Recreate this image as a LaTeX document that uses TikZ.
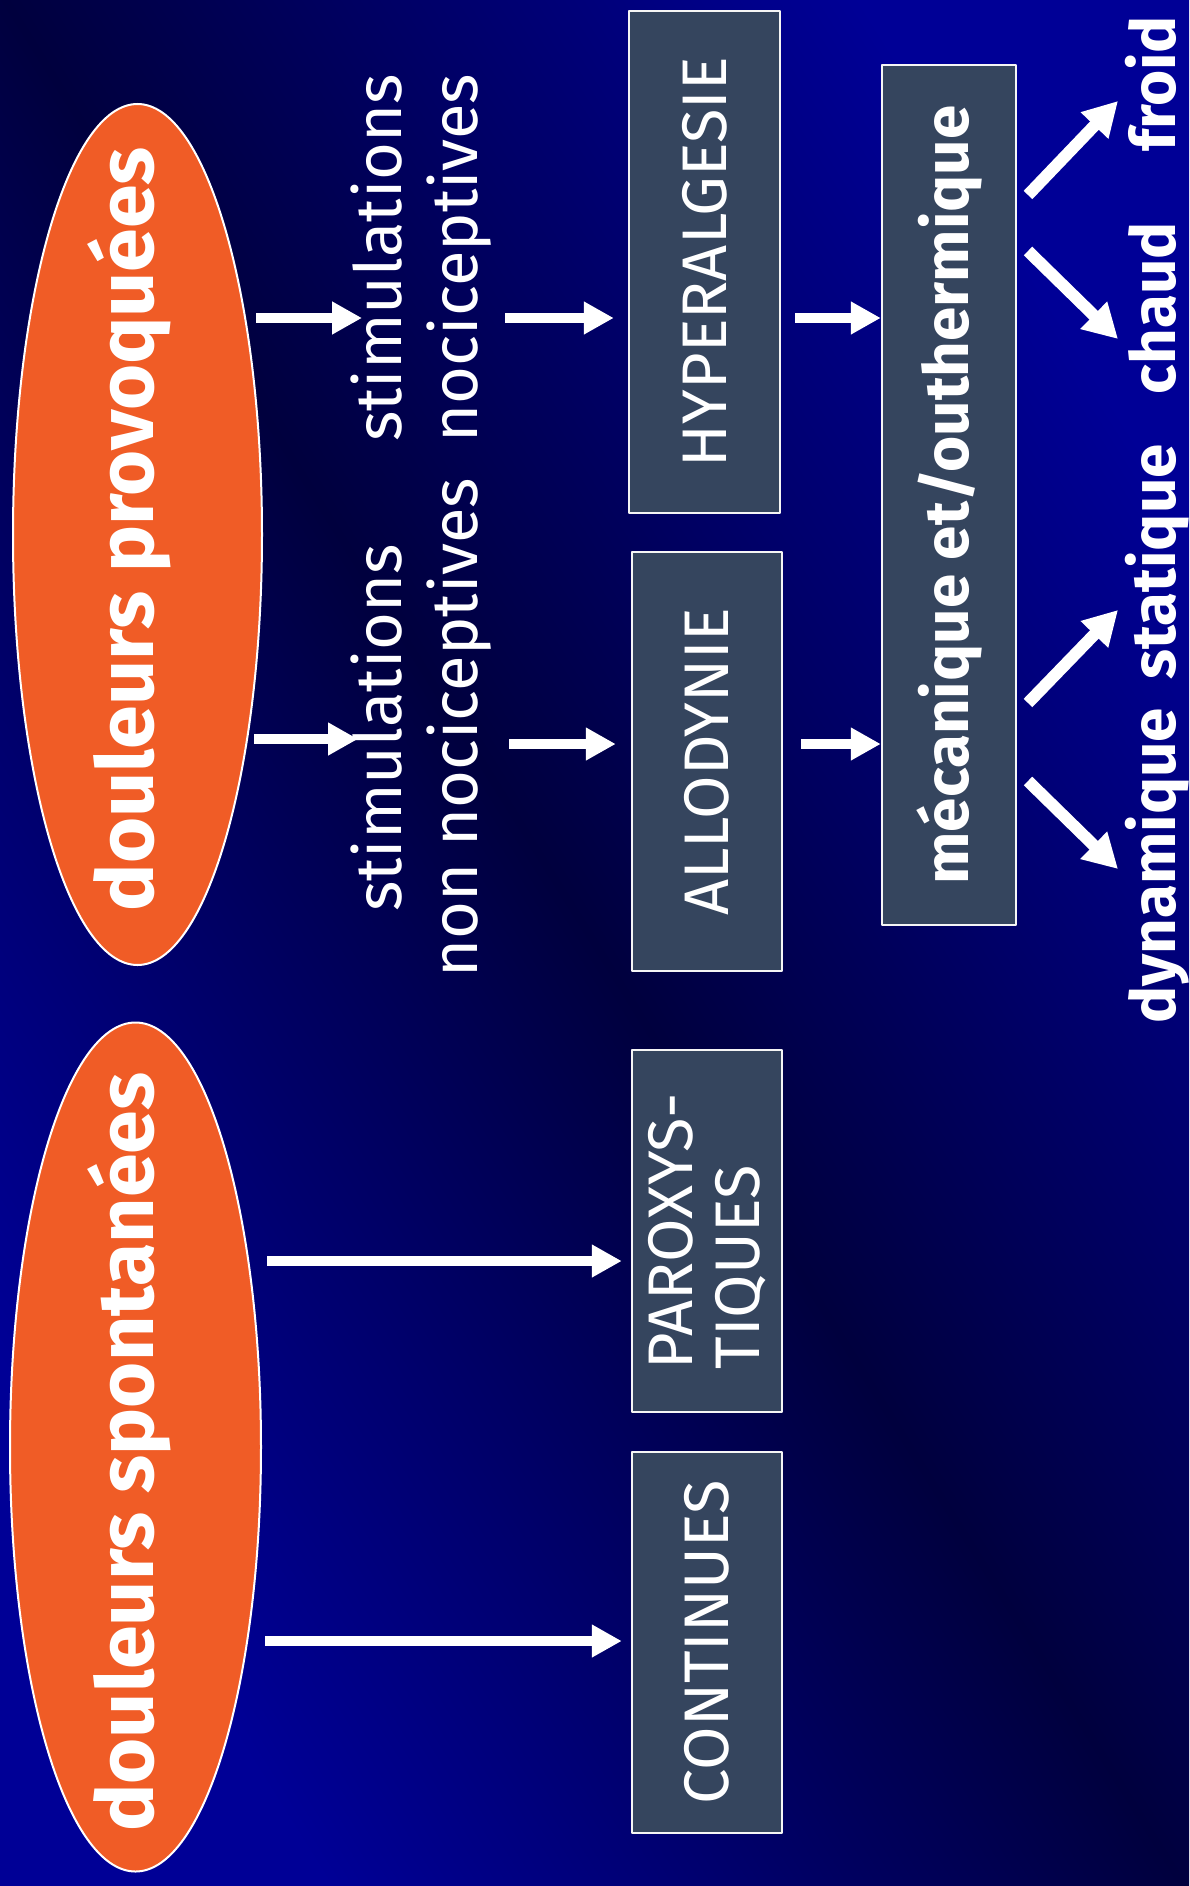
\documentclass[tikz,border=0pt]{standalone}
\usepackage{fontspec}
\setmainfont{Fira Sans}
\usetikzlibrary{arrows.meta,shapes.geometric}
\definecolor{fond}{RGB}{0,0,62}
\definecolor{fondclair}{RGB}{0,0,150}
\definecolor{orangeD}{RGB}{240,92,38}
\definecolor{ardoise}{RGB}{53,69,94}
\begin{document}
\begin{tikzpicture}[x=1pt, y=-1pt, line join=round,
	bulle/.style={ellipse, fill=orangeD, draw=white, line width=2pt, inner sep=0pt},
	titre/.style={text=white, rotate=90, inner sep=0pt, anchor=base, font=\bfseries\fontsize{79}{90}\selectfont},
	cadre/.style={rectangle, fill=ardoise, draw=white!92!gray, line width=2.5pt, text=white, rotate=90, inner sep=0pt, font=\fontsize{63}{67}\selectfont},
	stim/.style={text=white, rotate=90, inner sep=0pt, align=center, font=\fontsize{65}{76}\selectfont},
	issue/.style={text=white, rotate=90, inner sep=0pt, anchor=base, font=\bfseries\fontsize{62}{70}\selectfont},
	fleche/.style={draw=white, line width=10pt, -{Triangle[length=30pt,width=31pt]}},
	flechebis/.style={draw=white, line width=12pt, -{Triangle[length=34pt,width=36pt]}}]
	\useasboundingbox (0,0) rectangle (1189,1886);
	\shade[top color=fondclair, bottom color=fondclair, middle color=fond, shading angle=-58] (0,0) rectangle (1189,1886);
	% les deux types de douleurs
	\node[bulle, minimum width=249pt, minimum height=861pt] (prov) at (137.5,534.5) {};
	\node[bulle, minimum width=251pt, minimum height=849pt] (spon) at (135.5,1447) {};
	\node[titre] (provT) at (153,529) {douleurs provoquées};
	\node[titre] (sponT) at (153,1452) {douleurs spontanées};
	% cadres
	\node[cadre, minimum width=502pt, minimum height=151pt] (hyper) at (704.5,262) {HYPERALGESIE};
	\node[cadre, minimum width=419pt, minimum height=150pt] (allo) at (707,761.5) {ALLODYNIE};
	\node[cadre, minimum width=362pt, minimum height=150pt, align=left] (paro) at (707,1231) {PAROXYS-\\TIQUES};
	\node[cadre, minimum width=381pt, minimum height=150pt] (cont) at (707,1642.5) {CONTINUES};
	\node[cadre, minimum width=860pt, minimum height=134pt, font=\bfseries\fontsize{62}{70}\selectfont] (meca) at (949,495) {mécanique et/outhermique};
	% stimulations
	\node[stim] (stimA) at (421,258) {stimulations\\nociceptives};
	\node[stim] (stimB) at (421,728) {stimulations\\non nociceptives};
	% modalites
	\node[issue] (froid) at (1175,84) {froid};
	\node[issue] (chaud) at (1175,308) {chaud};
	\node[issue] (statique) at (1175,562) {statique};
	\node[issue] (dynamique) at (1175,866) {dynamique};
	% fleches
	\coordinate (h1) at (256,318);
	\coordinate (h2) at (505,318);
	\coordinate (b1) at (254,739);
	\coordinate (b2) at (509,744);
	\draw[fleche] (h1) -- ++(106,0);
	\draw[fleche, shorten >=14pt] (h2) -- (hyper.north |- h2);
	\draw[fleche, shorten <=14pt] (hyper.south |- h2) -- (meca.north |- h2);
	\draw[fleche] (b1) -- ++(104,0);
	\draw[fleche, shorten >=15pt] (b2) -- (allo.north |- b2);
	\draw[fleche, shorten <=18pt] (allo.south |- b2) -- (meca.north |- b2);
	\draw[fleche, shorten <=5pt, shorten >=9pt] (spon.east |- 0,1261) -- (paro.north |- 0,1261);
	\draw[fleche, shorten <=3pt, shorten >=9pt] (spon.east |- 0,1641) -- (cont.north |- 0,1641);
	\foreach \dep/\arr in {195/101, 251/339, 703/610, 781/869}
		\draw[flechebis] (1028,\dep) -- (1118,\arr);
\end{tikzpicture}
\end{document}
